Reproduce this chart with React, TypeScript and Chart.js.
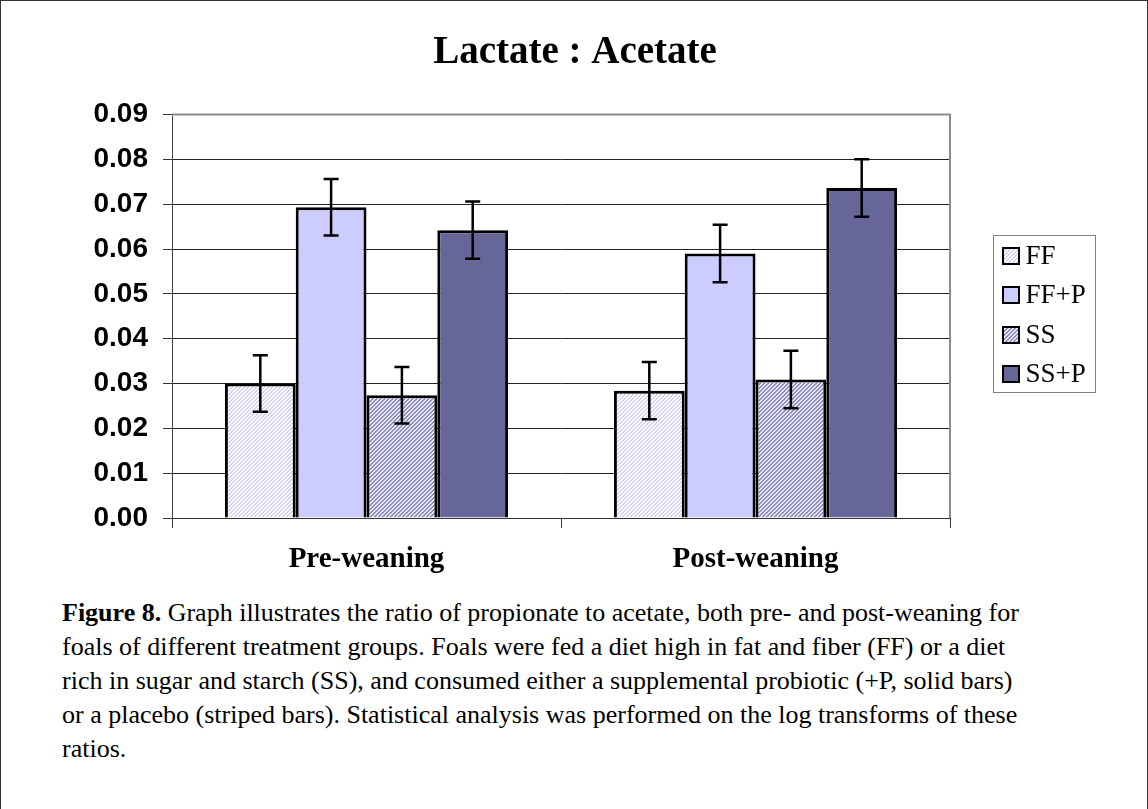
import React, { useEffect, useRef } from "react";
import { Chart, registerables } from "chart.js";

Chart.register(...registerables);

// ---------- data ----------
const categories = ["Pre-weaning", "Post-weaning"];
const seriesLabels = ["FF", "FF+P", "SS", "SS+P"];
const ffValues = [0.03, 0.0284];
const ffpValues = [0.0693, 0.059];
const ssValues = [0.0274, 0.0309];
const sspValues = [0.0642, 0.0736];
const ffErrors = [0.0063, 0.0064];
const ffpErrors = [0.0063, 0.0064];
const ssErrors = [0.0063, 0.0064];
const sspErrors = [0.0064, 0.0064];
const yMin = 0;
const yMax = 0.09;
const yStep = 0.01;
const chartTitle = "Lactate : Acetate";
const captionBold = "Figure 8.";
const captionLines = [
  " Graph illustrates the ratio of propionate to acetate, both pre- and post-weaning for",
  "foals of different treatment groups. Foals were fed a diet high in fat and fiber (FF) or a diet",
  "rich in sugar and starch (SS), and consumed either a supplemental probiotic (+P, solid bars)",
  "or a placebo (striped bars). Statistical analysis was performed on the log transforms of these",
  "ratios.",
];

const SERIF = '"Times New Roman", "Liberation Serif", serif';
const SANS = 'Arial, "Liberation Sans", sans-serif';

function makeStripe(bg: string, fg: string, period: number, on: number): CanvasPattern | string {
  const c = document.createElement("canvas");
  c.width = period;
  c.height = period;
  const g = c.getContext("2d");
  if (!g) return bg;
  g.fillStyle = bg;
  g.fillRect(0, 0, period, period);
  g.fillStyle = fg;
  for (let y = 0; y < period; y++) {
    for (let x = 0; x < period; x++) {
      if ((x + y) % period < on) g.fillRect(x, y, 1, 1);
    }
  }
  const p = g.createPattern(c, "repeat");
  return p || bg;
}

export default function App() {
  const canvasRef = useRef<HTMLCanvasElement | null>(null);

  useEffect(() => {
    document.body.style.margin = "0";
    document.body.style.overflow = "hidden";
    const canvas = canvasRef.current;
    if (!canvas) return;

    const ffFill = makeStripe("#ffffff", "#d4d4f6", 4, 2);
    const ssFill = makeStripe("#e8e8f4", "#8c8cb8", 4, 2);
    const fills = [ffFill, "#ccccff", ssFill, "#666699"];
    const values = [ffValues, ffpValues, ssValues, sspValues];
    const errors = [ffErrors, ffpErrors, ssErrors, sspErrors];

    const errorBarPlugin = {
      id: "errorBars",
      afterDatasetsDraw(chart: any) {
        const ctx = chart.ctx;
        const yScale = chart.scales.y;
        ctx.save();
        ctx.strokeStyle = "#000";
        ctx.lineWidth = 2.5;
        chart.data.datasets.forEach((ds: any, di: number) => {
          const meta = chart.getDatasetMeta(di);
          meta.data.forEach((el: any, i: number) => {
            const v = values[di][i];
            const e = errors[di][i];
            const yt = yScale.getPixelForValue(v + e);
            const yb = yScale.getPixelForValue(v - e);
            const x = el.x;
            ctx.beginPath();
            ctx.moveTo(x, yt);
            ctx.lineTo(x, yb);
            ctx.moveTo(x - 7.5, yt);
            ctx.lineTo(x + 7.5, yt);
            ctx.moveTo(x - 7.5, yb);
            ctx.lineTo(x + 7.5, yb);
            ctx.stroke();
          });
        });
        ctx.restore();
      },
    };

    const frameLegendPlugin = {
      id: "frameLegend",
      beforeDatasetsDraw(chart: any) {
        const { ctx, chartArea } = chart;
        ctx.save();
        ctx.strokeStyle = "#8c8c8c";
        ctx.lineWidth = 2;
        ctx.beginPath();
        ctx.moveTo(chartArea.left, chartArea.top);
        ctx.lineTo(chartArea.right, chartArea.top);
        ctx.lineTo(chartArea.right, chartArea.bottom);
        ctx.stroke();
        ctx.restore();
      },
      afterDraw(chart: any) {
        const { ctx, chartArea, width } = chart;
        ctx.save();
        // title, centred on the whole figure
        ctx.fillStyle = "#000";
        ctx.font = `bold 39px ${SERIF}`;
        ctx.textAlign = "center";
        ctx.textBaseline = "alphabetic";
        ctx.fillText(chartTitle, width / 2 + 1, chartArea.top - 52);

        // legend
        const bx = Math.round(chartArea.right + 43) + 0.5;
        const by = Math.round(chartArea.top + 120) + 0.5;
        const bw = 102;
        const bh = 157;
        ctx.fillStyle = "#fff";
        ctx.fillRect(bx, by, bw, bh);
        ctx.strokeStyle = "#808080";
        ctx.lineWidth = 1;
        ctx.strokeRect(bx, by, bw, bh);
        ctx.font = `27px ${SERIF}`;
        ctx.textBaseline = "middle";
        ctx.textAlign = "left";
        seriesLabels.forEach((lab, i) => {
          const cy = by + 20 + i * 39.5;
          const sx = bx + 9.5;
          const sy = Math.round(cy - 8);
          ctx.fillStyle = fills[i] as any;
          ctx.fillRect(sx, sy, 16, 16);
          ctx.strokeStyle = "#000";
          ctx.lineWidth = 2;
          ctx.strokeRect(sx, sy, 16, 16);
          ctx.fillStyle = "#000";
          ctx.fillText(lab, bx + 32, cy + 1);
        });
        ctx.restore();
      },
    };

    const chart = new Chart(canvas, {
      type: "bar",
      data: {
        labels: categories,
        datasets: seriesLabels.map((lab, i) => ({
          label: lab,
          data: values[i],
          backgroundColor: fills[i] as any,
          borderColor: "#000",
          borderWidth: 3,
          barPercentage: 1,
          categoryPercentage: 0.728,
        })),
      },
      options: {
        responsive: false,
        animation: false,
        layout: { padding: { left: 0, right: 197, top: 113.5, bottom: 0 } },
        plugins: {
          legend: { display: false },
          tooltip: { enabled: false },
          title: { display: false },
        },
        scales: {
          x: {
            offset: true,
            grid: {
              offset: true,
              drawOnChartArea: false,
              drawTicks: true,
              tickLength: 10,
              tickColor: "#333",
              lineWidth: 1,
            },
            border: { display: true, color: "#333", width: 1 },
            ticks: {
              color: "#000",
              padding: 14,
              font: { family: SERIF, size: 29, weight: "bold" },
            },
            afterFit(scale: any) {
              scale.height = 72;
            },
          },
          y: {
            min: yMin,
            max: yMax,
            grid: {
              color: "#222",
              lineWidth: 1,
              drawTicks: true,
              tickLength: 9,
              tickColor: "#333",
            },
            border: { display: true, color: "#444", width: 1 },
            ticks: {
              stepSize: yStep,
              color: "#000",
              padding: 15,
              font: { family: SANS, size: 28, weight: "bold" },
              callback: (v: any) => Number(v).toFixed(2),
            },
            afterFit(scale: any) {
              scale.width = 171;
            },
          },
        },
      },
      plugins: [frameLegendPlugin, errorBarPlugin],
    });
    return () => chart.destroy();
  }, []);

  return (
    <div
      style={{
        position: "relative",
        width: 1148,
        height: 809,
        boxSizing: "border-box",
        borderTop: "1px solid #333",
        borderLeft: "1px solid #333",
        borderRight: "1px solid #333",
        background: "#fff",
        overflow: "hidden",
      }}
    >
      <canvas
        ref={canvasRef}
        width={1146}
        height={589}
        style={{ position: "absolute", left: 0, top: 0, width: 1146, height: 589 }}
      />
      <div
        style={{
          position: "absolute",
          left: 61,
          top: 595,
          fontFamily: SERIF,
          fontSize: 26,
          lineHeight: "34px",
          color: "#000",
          whiteSpace: "nowrap",
        }}
      >
        {captionLines.map((line, i) => (
          <div key={i}>
            {i === 0 ? <b>{captionBold}</b> : null}
            {line}
          </div>
        ))}
      </div>
    </div>
  );
}
